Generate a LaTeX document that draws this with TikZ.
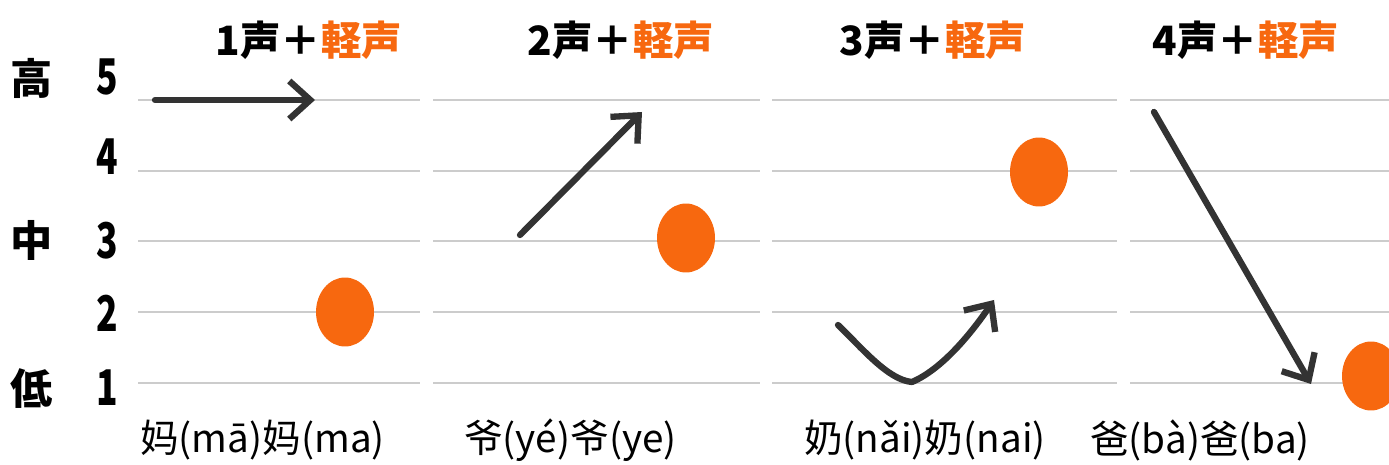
\documentclass[tikz,border=0pt]{standalone}
\usepackage{fontspec}
\setmainfont{Noto Sans CJK SC}
\newfontfamily\jpfont{Noto Sans CJK JP}
\usetikzlibrary{arrows.meta,shapes.geometric}

\definecolor{toneorange}{HTML}{F7680F}
\definecolor{tonegray}{HTML}{333333}
\definecolor{gridgray}{HTML}{CCCCCC}

\tikzset{
    tonearrow/.style={draw=tonegray, line width=3.6pt, line cap=round, line join=round,
        -{Straight Barb[length=4.2mm, width=7.6mm]}},
    lightdot/.style={ellipse, fill=toneorange, inner sep=0pt, minimum width=1.16cm, minimum height=1.38cm},
    heading/.style={font=\jpfont\bfseries\fontsize{23}{23}\selectfont},
    levelword/.style={font=\jpfont\bfseries\fontsize{24}{24}\selectfont},
    levelnum/.style={font=\jpfont\bfseries\fontsize{28}{28}\selectfont},
    wordlabel/.style={anchor=west, font=\fontsize{22}{22}\selectfont}
}

\begin{document}
\begin{tikzpicture}[x=0.02cm, y=-0.02cm]
        \useasboundingbox (0,0) rectangle (1389,465);

        % Pitch lines
        \foreach \y in {100,171,241,312,383} {
            \foreach \a/\b in {138/420, 433/760, 772/1117, 1130/1389}
                \draw[gridgray, line width=0.8pt] (\a,\y) -- (\b,\y);
        }

        % Levels
        \node[levelword] (high) at (32,78) {高};
        \node[levelword] (mid) at (32,240) {中};
        \node[levelword] (low) at (32,389) {低};
        \foreach \n/\y in {5/77, 4/157, 3/241, 2/313, 1/388}
            \node[levelnum] (lv\n) at (107,\y) {\scalebox{0.72}[1]{\n}};

        % Headings
        \node[heading] (h1) at (309,40) {1声＋\textcolor{toneorange}{軽声}};
        \node[heading] (h2) at (621,40) {2声＋\textcolor{toneorange}{軽声}};
        \node[heading] (h3) at (933,40) {3声＋\textcolor{toneorange}{軽声}};
        \node[heading] (h4) at (1246,40) {4声＋\textcolor{toneorange}{軽声}};

        % Tones
        \coordinate (t1a) at (155,100);
        \coordinate (t1b) at (315,100);
        \draw[tonearrow] (t1a) -- (t1b);

        \coordinate (t2a) at (520,235);
        \coordinate (t2b) at (642,112);
        \draw[tonearrow] (t2a) -- (t2b);

        \coordinate (t3a) at (838,325);
        \coordinate (t3m) at (912,382);
        \coordinate (t3b) at (994,300);
        \draw[tonearrow] (t3a) .. controls (862,348) and (888,380) .. (t3m)
            .. controls (940,370) and (968,338) .. (t3b);

        \coordinate (t4a) at (1154,112);
        \coordinate (t4b) at (1311,384);
        \draw[tonearrow] (t4a) -- (t4b);

        % Neutral tones
        \node[lightdot] (d1) at (345,312) {};
        \node[lightdot] (d2) at (686,238) {};
        \node[lightdot] (d3) at (1039,172) {};
        \node[lightdot] (d4) at (1371,376) {};

        % Words
        \node[wordlabel] (w1) at (134,440) {妈(mā)妈(ma)};
        \node[wordlabel] (w2) at (458,440) {爷(yé)爷(ye)};
        \node[wordlabel] (w3) at (798,440) {奶(nǎi)奶(nai)};
        \node[wordlabel] (w4) at (1084,440) {爸(bà)爸(ba)};
    \end{tikzpicture}
\end{document}
